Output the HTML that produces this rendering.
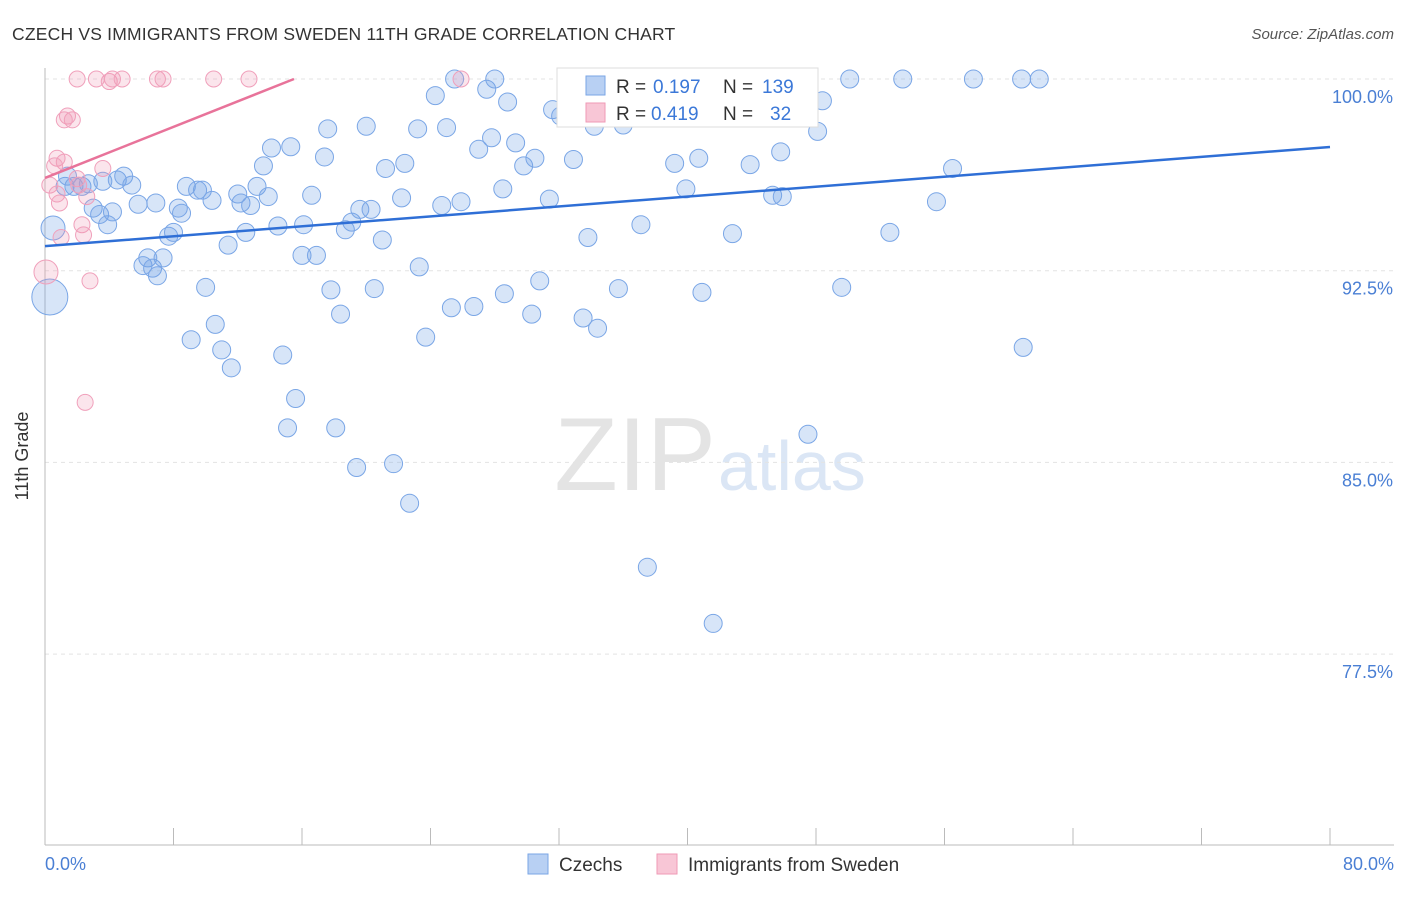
<!DOCTYPE html>
<html><head><meta charset="utf-8"><style>
body{margin:0;background:#fff;font-family:"Liberation Sans",sans-serif}
svg text{font-family:"Liberation Sans",sans-serif}
</style></head><body>
<svg id="chart" width="1406" height="892" xmlns="http://www.w3.org/2000/svg">
<text x="12" y="40" font-size="17.5" fill="#333" letter-spacing="0.2">CZECH VS IMMIGRANTS FROM SWEDEN 11TH GRADE CORRELATION CHART</text>
<text x="1394" y="39" font-size="15" fill="#555" text-anchor="end" font-style="italic">Source: ZipAtlas.com</text>
<text x="716" y="490" font-size="104" fill="#e4e4e4" text-anchor="end" font-family="Liberation Serif">ZIP</text>
<text x="718" y="490" font-size="70" fill="#dbe6f5">atlas</text>
<g id="grid"></g><g id="axes"></g><g id="pts"></g><g id="trend"></g>
<text x="28" y="456" font-size="18" fill="#333" text-anchor="middle" transform="rotate(-90 28 456)">11th Grade</text>
<text x="45" y="870" font-size="18" fill="#4a7fd4">0.0%</text>
<text x="1394" y="870" font-size="18" fill="#4a7fd4" text-anchor="end">80.0%</text>
<g font-size="19">
<rect x="557" y="68" width="261" height="59" fill="#fff" stroke="#ddd"/>
<rect x="586" y="76" width="19" height="19" fill="#b8d0f3" stroke="#7aa6e6"/>
<text x="616" y="93" fill="#333">R =</text>
<text x="653" y="93" fill="#3b78d8">0.197</text>
<text x="723" y="93" fill="#333">N =</text>
<text x="762" y="93" fill="#3b78d8">139</text>
<rect x="586" y="103" width="19" height="19" fill="#f8c6d6" stroke="#ef9ab6"/>
<text x="616" y="120" fill="#333">R =</text>
<text x="651" y="120" fill="#3b78d8">0.419</text>
<text x="723" y="120" fill="#333">N =</text>
<text x="770" y="120" fill="#3b78d8">32</text>
</g>
<g>
<rect x="528" y="854" width="20" height="20" fill="#b8d0f3" stroke="#7aa6e6"/>
<text x="559" y="871" font-size="19" fill="#333">Czechs</text>
<rect x="657" y="854" width="20" height="20" fill="#f8c6d6" stroke="#ef9ab6"/>
<text x="688" y="871" font-size="19" fill="#333">Immigrants from Sweden</text>
</g>
</svg>
<script>
const yTicks=[100,92.5,85,77.5];
const yTickLabels=["100.0%","92.5%","85.0%","77.5%"];
const xTicks=[0,8,16,24,32,40,48,56,64,72,80];
const czX=[0.5,0.3,1.25,1.4,1.8,2.3,2.7,3.6,3.0,3.4,3.9,4.2,4.5,4.9,5.4,5.8,6.9,6.4,6.1,6.7,7.0,7.35,7.7,8.0,8.3,8.5,8.8,9.5,9.8,10.4,10.0,9.1,10.6,11.0,11.6,11.4,12.0,12.2,12.5,12.8,13.2,13.6,13.9,14.1,14.5,15.3,14.8,15.6,15.1,16.0,16.1,16.6,16.9,17.4,17.6,17.8,18.4,18.1,18.7,19.1,19.6,20.3,20.0,20.5,21.0,21.2,19.4,21.7,22.2,22.4,22.7,23.2,23.3,23.7,24.3,24.7,25.0,25.3,25.5,25.9,26.7,27.0,27.5,27.8,28.0,28.5,28.6,28.8,29.3,29.8,30.3,30.5,30.8,31.4,31.6,32.1,32.9,33.3,33.5,33.8,34.2,34.4,35.7,36.0,37.1,37.5,39.2,39.9,40.7,40.9,41.6,42.8,43.9,45.3,45.8,45.9,46.8,47.5,48.1,48.4,49.6,50.1,52.6,53.4,55.5,56.5,57.8,60.8,60.9,61.9];
const czY=[94.17,91.47,95.8,96.2,95.8,95.8,95.9,96.0,94.95,94.7,94.3,94.8,96.05,96.2,95.85,95.1,95.15,93.0,92.7,92.6,92.3,93.0,93.85,94.0,94.95,94.75,95.8,95.65,95.65,95.25,91.85,89.8,90.4,89.4,88.7,93.5,95.5,95.15,94.0,95.05,95.8,96.6,95.4,97.3,94.25,97.35,89.2,87.5,86.35,93.1,94.3,95.45,93.1,96.95,98.05,91.75,90.8,86.35,94.1,94.4,94.9,94.9,98.15,91.8,93.7,96.5,84.8,84.95,95.35,96.7,83.4,98.05,92.65,89.9,99.35,95.05,98.1,91.05,100,95.2,91.1,97.25,99.6,97.7,100,95.7,91.6,99.1,97.5,96.6,90.8,96.9,92.1,95.3,98.8,98.55,96.85,99.05,90.65,93.8,98.15,90.25,91.8,98.2,94.3,80.9,96.7,95.7,96.9,91.65,78.7,93.95,96.65,95.45,97.15,95.4,100,86.1,97.95,99.15,91.85,100,94.0,100,95.2,96.5,100,100,89.5,100];
const czR=[12,18];
const swX=[2.0,3.2,4.0,4.2,4.8,7.0,7.35,10.5,12.7,25.9,1.4,1.7,1.2,0.75,1.2,0.6,3.6,0.3,2.0,2.1,0.75,0.9,2.6,2.3,2.4,1.0,0.06,2.8,2.5];
const swY=[100,100,99.9,100,100,100,100,100,100,100,98.55,98.4,98.4,96.9,96.75,96.6,96.5,95.85,96.1,95.85,95.5,95.15,95.4,94.3,93.9,93.8,92.45,92.1,87.35];
const czTrendX=[0,80], czTrendY=[93.46,97.34];
const swTrendX=[0,15.5], swTrendY=[96.13,100];
const NS="http://www.w3.org/2000/svg";
const X=v=>45+v*16.0625, Y=v=>79+(100-v)*25.56;
function mk(t,a,p){const e=document.createElementNS(NS,t);for(const k in a)e.setAttribute(k,a[k]);document.getElementById(p).appendChild(e);return e;}
yTicks.forEach((t,i)=>{
 const l=mk('line',{x1:45,x2:1394,y1:Y(t),y2:Y(t),stroke:'#e3e3e3','stroke-dasharray':'4,4'},'grid');
 
 
 const tx=mk('text',{x:1393,y:Y(t)+24,'font-size':18,fill:'#4a7fd4','text-anchor':'end'},'grid');
 tx.textContent=yTickLabels[i];
 
 
});
const ax=mk('line',{x1:45,x2:1394,y1:845,y2:845,stroke:'#bbb'},'axes');


const ay=mk('line',{x1:45,x2:45,y1:68,y2:845,stroke:'#bbb'},'axes');


xTicks.forEach(t=>{
 const l=mk('line',{x1:X(t),x2:X(t),y1:828,y2:845,stroke:'#bbb'},'axes');
 
 
});
czX.forEach((x,i)=>{
 const c=mk('circle',{cx:X(x),cy:Y(czY[i]),r:czR[i]||9,fill:'rgba(110,160,230,0.28)',stroke:'#7aa6e6','stroke-width':1},'pts');
 
 
});
swX.forEach((x,i)=>{
 const c=mk('circle',{cx:X(x),cy:Y(swY[i]),r:i===26?12:8,fill:'rgba(240,150,180,0.25)',stroke:'#f0a0bb','stroke-width':1},'pts');
 
 
});
const t1=mk('line',{x1:X(czTrendX[0]),y1:Y(czTrendY[0]),x2:X(czTrendX[1]),y2:Y(czTrendY[1]),stroke:'#2f6fd6','stroke-width':2.5},'trend');


const t2=mk('line',{x1:X(swTrendX[0]),y1:Y(swTrendY[0]),x2:X(swTrendX[1]),y2:Y(swTrendY[1]),stroke:'#e8739a','stroke-width':2.5},'trend');


</script>
</body></html>
